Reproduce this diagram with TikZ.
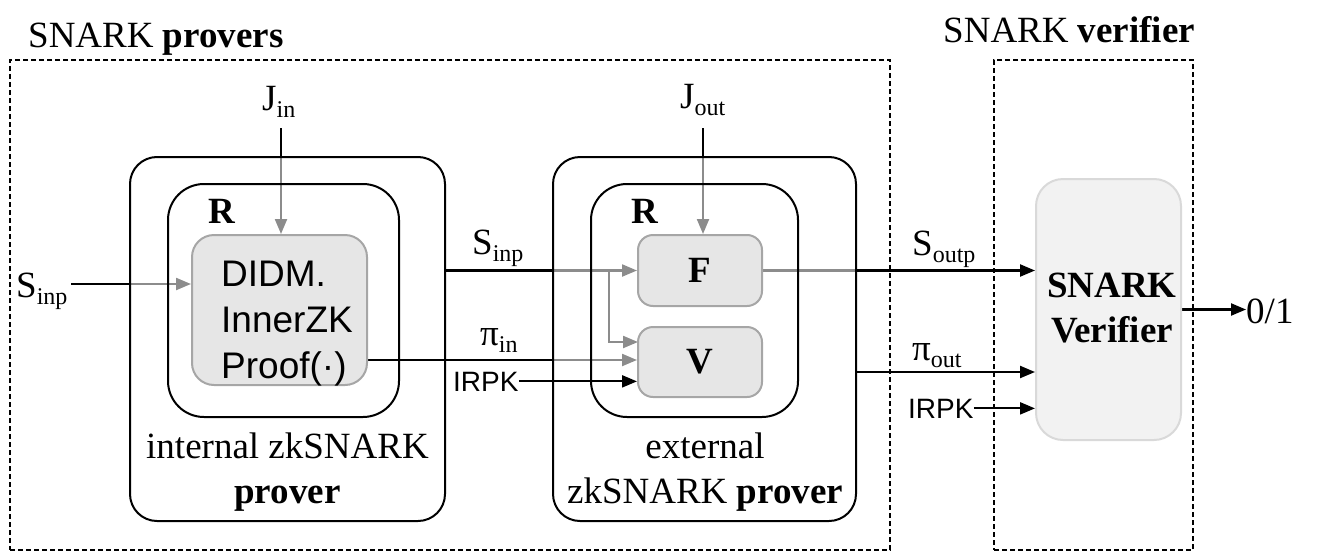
\documentclass[tikz,border=0pt]{standalone}
\usepackage{fontspec}
\setmainfont{Liberation Serif}
\newfontfamily\arialf{Liberation Sans}
\usetikzlibrary{arrows.meta,backgrounds}
\definecolor{arrgray}{HTML}{8C8C8C}
\definecolor{boxfill}{HTML}{E6E6E6}
\definecolor{boxline}{HTML}{A6A6A6}
\definecolor{vfill}{HTML}{F2F2F2}
\definecolor{vline}{HTML}{D9D9D9}
\newcommand\bigfont{\fontsize{37}{45}\selectfont}
\newcommand\sbs[1]{\raisebox{-7pt}{\fontsize{24}{24}\selectfont #1}}
\begin{document}
\begin{tikzpicture}[x=1pt,y=-1pt,
  lbl/.style={inner sep=0pt, font=\bigfont},
  sanslbl/.style={inner sep=0pt, font=\arialf\fontsize{28}{32}\selectfont},
  dbox/.style={draw, dash pattern=on 5pt off 3pt, line width=1.5pt, inner sep=0pt},
  obox/.style={draw, line width=2pt, rounded corners=27pt, inner sep=0pt},
  rbox/.style={draw, line width=2pt, rounded corners=36pt, inner sep=0pt},
  gbox/.style={draw=boxline, fill=boxfill, line width=2pt, inner sep=0pt},
  blk/.style={line width=2.2pt, black},
  gry/.style={line width=2.2pt, arrgray},
  tip/.style={-{Triangle[length=15pt,width=12pt]}},
]
\useasboundingbox (0,0) rectangle (1329,554);

% titles
\node[lbl, anchor=base west] (t1) at (28,47) {SNARK \textbf{provers}};
\node[lbl, anchor=base west] (t2) at (943,42) {SNARK \textbf{verifier}};

% boxes
\node[obox, minimum width=315, minimum height=364] (io) at (287.5,339) {};
\node[rbox, minimum width=231, minimum height=233] (ir) at (283.5,300.5) {};
\node[gbox, rounded corners=22pt, minimum width=175, minimum height=150] (didm) at (279.5,310) {};
\node[font=\arialf\fontsize{37}{46}\selectfont, align=left, anchor=base west, inner sep=0pt] (didmtx) at (221,378) {DIDM.\\InnerZK\\Proof(·)};
\node[lbl, anchor=base west] (r1) at (208,223) {\textbf{R}};

\node[obox, minimum width=303, minimum height=364] (eo) at (704.5,339) {};
\node[rbox, minimum width=207, minimum height=233] (er) at (694.5,300.5) {};
\node[gbox, rounded corners=15pt, minimum width=124, minimum height=71, font=\bigfont\bfseries] (F) at (700,270.5) {F};
\node[gbox, rounded corners=15pt, minimum width=124, minimum height=70, font=\bigfont\bfseries] (V) at (700,362) {V};
\node[lbl, anchor=base west] (r2) at (631,223) {\textbf{R}};

\node[draw=vline, fill=vfill, line width=2pt, rounded corners=27pt, minimum width=145, minimum height=261, inner sep=0pt] (sv) at (1108.5,309.5) {};
\node[lbl, font=\bigfont\bfseries, align=center, anchor=base] (svtx) at (1112,342) {SNARK\\Verifier};

% bottom captions
\node[lbl, align=center, anchor=base] (cap1) at (287.5,503) {internal zkSNARK\\\textbf{prover}};
\node[lbl, align=center, anchor=base] (cap2) at (705,503) {external\\zkSNARK \textbf{prover}};

% labels
\node[lbl, anchor=base west] (jin) at (262,110) {J\sbs{in}};
\node[lbl, anchor=base west] (jout) at (680,108) {J\sbs{out}};
\node[lbl, anchor=base west] (sinp1) at (16,297) {S\sbs{inp}};
\node[lbl, anchor=base west] (sinp2) at (472,254) {S\sbs{inp}};
\node[lbl, anchor=base west] (piin) at (480,345) {π\sbs{in}};
\node[sanslbl, anchor=base west] (irpk1) at (453,391) {IRPK};
\node[lbl, anchor=base west] (soutp) at (912,255) {S\sbs{outp}};
\node[lbl, anchor=base west] (piout) at (912,360) {π\sbs{out}};
\node[sanslbl, anchor=base west] (irpk2) at (908,418) {IRPK};
\node[lbl, anchor=base west] (o1) at (1246,323) {0/1};

\coordinate (jinA) at (281,128);
\coordinate (joutA) at (703,128);
\coordinate (sinA) at (71,284);
\coordinate (piA) at (367,360);
\coordinate (br) at (609,270.5);
\coordinate (brV) at (638,342);
\coordinate (poA) at (856,372);

\begin{scope}[on background layer]
\node[dbox, minimum width=880, minimum height=490] (prv) at (450,305) {};
\node[dbox, minimum width=199, minimum height=490] (ver) at (1093.5,305) {};
% J_in
\draw[blk] (jinA) -- (io.north -| jinA);
\draw[gry,tip] (io.north -| jinA) -- (didm.north -| jinA);
% S_inp
\draw[blk] (sinA) -- (io.west |- sinA);
\draw[gry,tip] (io.west |- sinA) -- (didm.west |- sinA);
% pi_in
\draw[blk] (piA) -- (eo.west |- piA);
\draw[gry,tip] (eo.west |- piA) -- (V.west |- piA);
% S_inp to F
\draw[blk] (io.east |- F.west) -- (eo.west |- F.west);
\draw[gry,tip] (eo.west |- F.west) -- (F.west);
\draw[gry,tip] (br) |- (brV);
% J_out
\draw[blk] (joutA) -- (eo.north -| joutA);
\draw[gry,tip] (eo.north -| joutA) -- (F.north -| joutA);
% IRPK to V
\draw[blk,tip] (irpk1.east) -- (V.west |- irpk1.east);
% F to verifier
\draw[gry] (F.east) -- (eo.east |- F.east);
\draw[blk,tip] (eo.east |- F.east) -- (sv.west |- F.east);
% pi_out
\draw[blk,tip] (eo.east |- poA) -- (sv.west |- poA);
% IRPK to verifier
\draw[blk,tip] (irpk2.east) -- (sv.west |- irpk2.east);
% output
\draw[blk,tip] ([xshift=-3pt]sv.east) -- (sv.east -| o1.west);
\end{scope}
\end{tikzpicture}
\end{document}
